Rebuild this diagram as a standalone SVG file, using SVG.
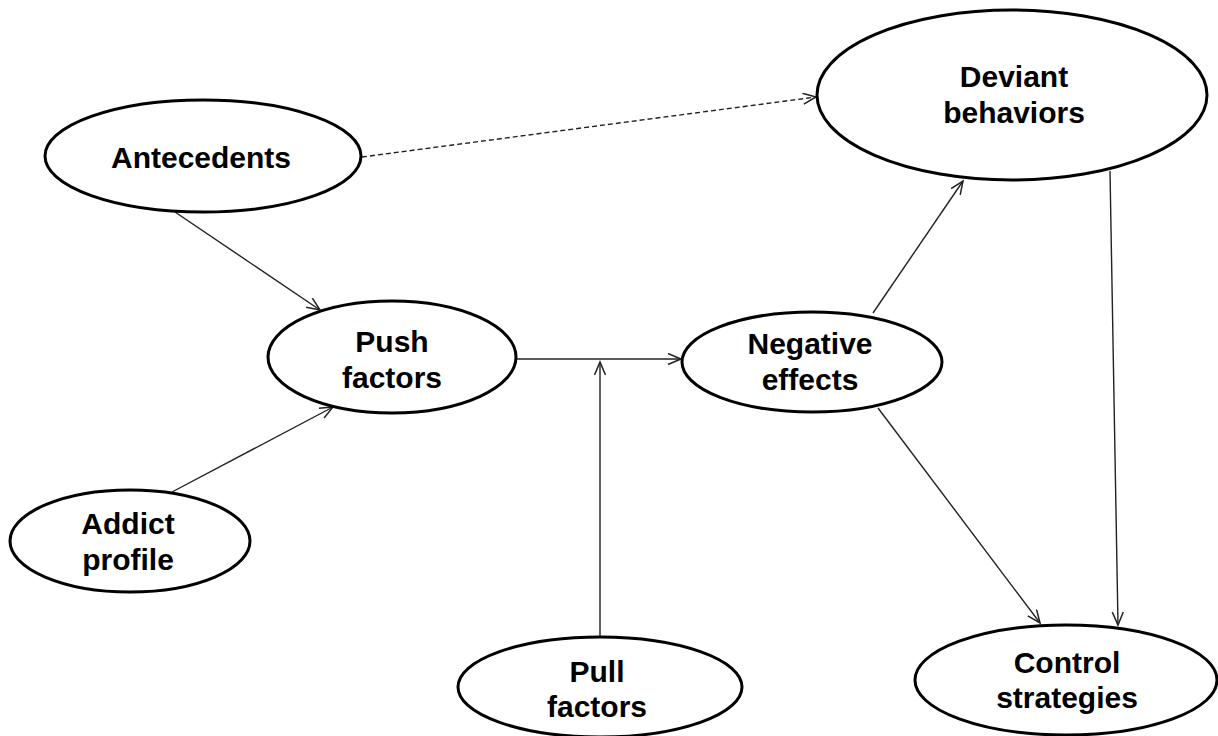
<svg xmlns="http://www.w3.org/2000/svg" width="1218" height="736" viewBox="0 0 1218 736">
<style>
.node ellipse{fill:#fff;stroke:#000;stroke-width:3}
.node text{font-family:"Liberation Sans",Arial,sans-serif;font-weight:bold;font-size:30px;fill:#000;text-anchor:middle}
.edge{fill:none;stroke:#222;stroke-width:1.4}
.dash{stroke-dasharray:5,3}
</style>
<defs>
<marker id="arr" markerUnits="userSpaceOnUse" markerWidth="16" markerHeight="14" refX="14" refY="6" orient="auto">
<path d="M1,0.5 L14,6 L1,11.5" fill="none" stroke="#222" stroke-width="1.5"/>
</marker>
</defs>
<rect width="1218" height="736" fill="#fff"/>
<g id="connectors">
<line class="edge dash" x1="362" y1="157" x2="816" y2="97" marker-end="url(#arr)"/>
<line class="edge" x1="175" y1="212" x2="320" y2="310" marker-end="url(#arr)"/>
<line class="edge" x1="172" y1="492" x2="333" y2="407" marker-end="url(#arr)"/>
<line class="edge" x1="517" y1="359" x2="681" y2="359" marker-end="url(#arr)"/>
<line class="edge" x1="600" y1="637" x2="600" y2="362" marker-end="url(#arr)"/>
<line class="edge" x1="873" y1="313" x2="963" y2="181" marker-end="url(#arr)"/>
<line class="edge" x1="878" y1="408" x2="1040" y2="623" marker-end="url(#arr)"/>
<line class="edge" x1="1110" y1="171" x2="1118" y2="625" marker-end="url(#arr)"/>
</g>
<g id="antecedents" class="node">
<ellipse cx="203" cy="156" rx="158" ry="56"/>
<text x="201" y="168">Antecedents</text>
</g>
<g id="deviant" class="node">
<ellipse cx="1012" cy="95" rx="195" ry="85"/>
<text x="1014" y="87">Deviant</text>
<text x="1014" y="123">behaviors</text>
</g>
<g id="push" class="node">
<ellipse cx="392" cy="357" rx="124" ry="56"/>
<text x="392" y="352">Push</text>
<text x="392" y="388">factors</text>
</g>
<g id="negative" class="node">
<ellipse cx="812" cy="362" rx="130" ry="50"/>
<text x="810" y="354">Negative</text>
<text x="810" y="390">effects</text>
</g>
<g id="addict" class="node">
<ellipse cx="130" cy="541" rx="120" ry="51"/>
<text x="128" y="534">Addict</text>
<text x="128" y="570">profile</text>
</g>
<g id="pull" class="node">
<ellipse cx="600" cy="687" rx="142" ry="50"/>
<text x="597" y="682">Pull</text>
<text x="597" y="717">factors</text>
</g>
<g id="control" class="node">
<ellipse cx="1066" cy="680" rx="151" ry="55"/>
<text x="1067" y="673">Control</text>
<text x="1067" y="708">strategies</text>
</g>
</svg>
